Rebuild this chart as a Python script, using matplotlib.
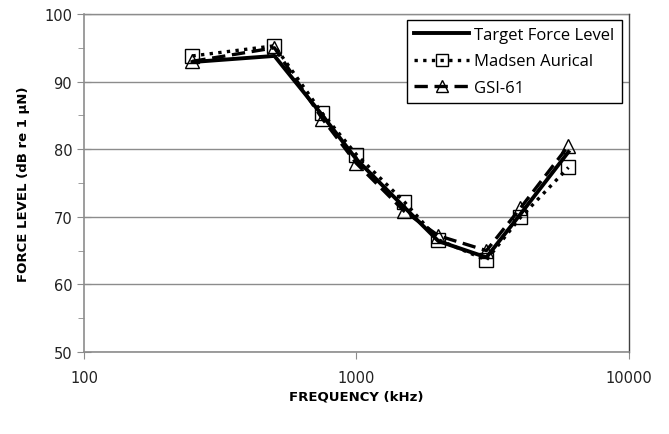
import matplotlib
matplotlib.use("Agg")
import matplotlib.pyplot as plt
from matplotlib.ticker import FixedLocator, MultipleLocator, FuncFormatter

# data
freq = [250, 500, 750, 1000, 1500, 2000, 3000, 4000, 6000]
target = [92.9, 93.8, 85.0, 78.5, 71.4, 66.4, 64.0, 70.4, 79.6]
madsen = [93.8, 95.3, 85.3, 79.2, 72.2, 66.6, 63.6, 69.9, 77.3]
gsi61 = [93.0, 95.0, 84.5, 77.9, 70.8, 67.2, 65.0, 71.3, 80.5]

series_names = ["Target Force Level", "Madsen Aurical", "GSI-61"]

fig = plt.figure(figsize=(6.69, 4.35), dpi=100)
ax = fig.add_axes([0.1256, 0.1885, 0.8144, 0.777])

ax.plot(freq, target, color="black", lw=2.8, ls="-", label=series_names[0], zorder=3)
ax.plot(freq, madsen, color="black", lw=2.4, ls=(0, (1, 1.6)), marker="s", ms=10,
        mfc="none", mec="black", mew=1.0, label=series_names[1], zorder=4)
ax.plot(freq, gsi61, color="black", lw=2.4, ls=(0, (4, 2)), marker="^", ms=10,
        mfc="none", mec="black", mew=1.0, label=series_names[2], zorder=4)

ax.set_xscale("log")
ax.set_xlim(100, 10000)
ax.set_ylim(50, 100)
ax.xaxis.set_major_locator(FixedLocator([100, 1000, 10000]))
ax.xaxis.set_minor_locator(FixedLocator([]))
ax.xaxis.set_major_formatter(FuncFormatter(lambda v, p: "%d" % v))
ax.yaxis.set_major_locator(MultipleLocator(10))
ax.yaxis.set_minor_locator(MultipleLocator(5))

ax.grid(axis="y", which="major", color="#8c8c8c", lw=1.0)
ax.axhline(100, color="#8c8c8c", lw=1.0, clip_on=False, zorder=1)
ax.set_axisbelow(True)

for s in ["left", "bottom"]:
    ax.spines[s].set_color("#8c8c8c")
    ax.spines[s].set_linewidth(1.2)
ax.spines["top"].set_visible(False)
ax.spines["right"].set_color("#404040")
ax.spines["right"].set_linewidth(1.0)

ax.tick_params(axis="both", which="major", direction="out", length=5, color="#8c8c8c",
               labelsize=10.5, labelcolor="#222222")
ax.tick_params(axis="y", which="minor", direction="out", length=4, color="#8c8c8c")
ax.tick_params(axis="y", which="major", direction="inout", length=10)
ax.tick_params(axis="x", pad=8)

ax.set_xlabel("FREQUENCY (kHz)", fontsize=9.5, fontweight="bold", labelpad=3)
ax.set_ylabel("FORCE LEVEL (dB re 1 \u03bcN)", fontsize=9.5, fontweight="bold", labelpad=10)

leg = ax.legend(loc="upper right", bbox_to_anchor=(1.003, 1.008),
                frameon=True, fancybox=False, handlelength=3.3, handletextpad=0.3,
                borderpad=0.45, labelspacing=0.62, markerscale=0.8,
                prop={"family": "Open Sans", "size": 12})
leg.get_frame().set_edgecolor("black")
leg.get_frame().set_linewidth(1.0)
leg.get_frame().set_alpha(1)

fig.savefig("out.png", dpi=100)
